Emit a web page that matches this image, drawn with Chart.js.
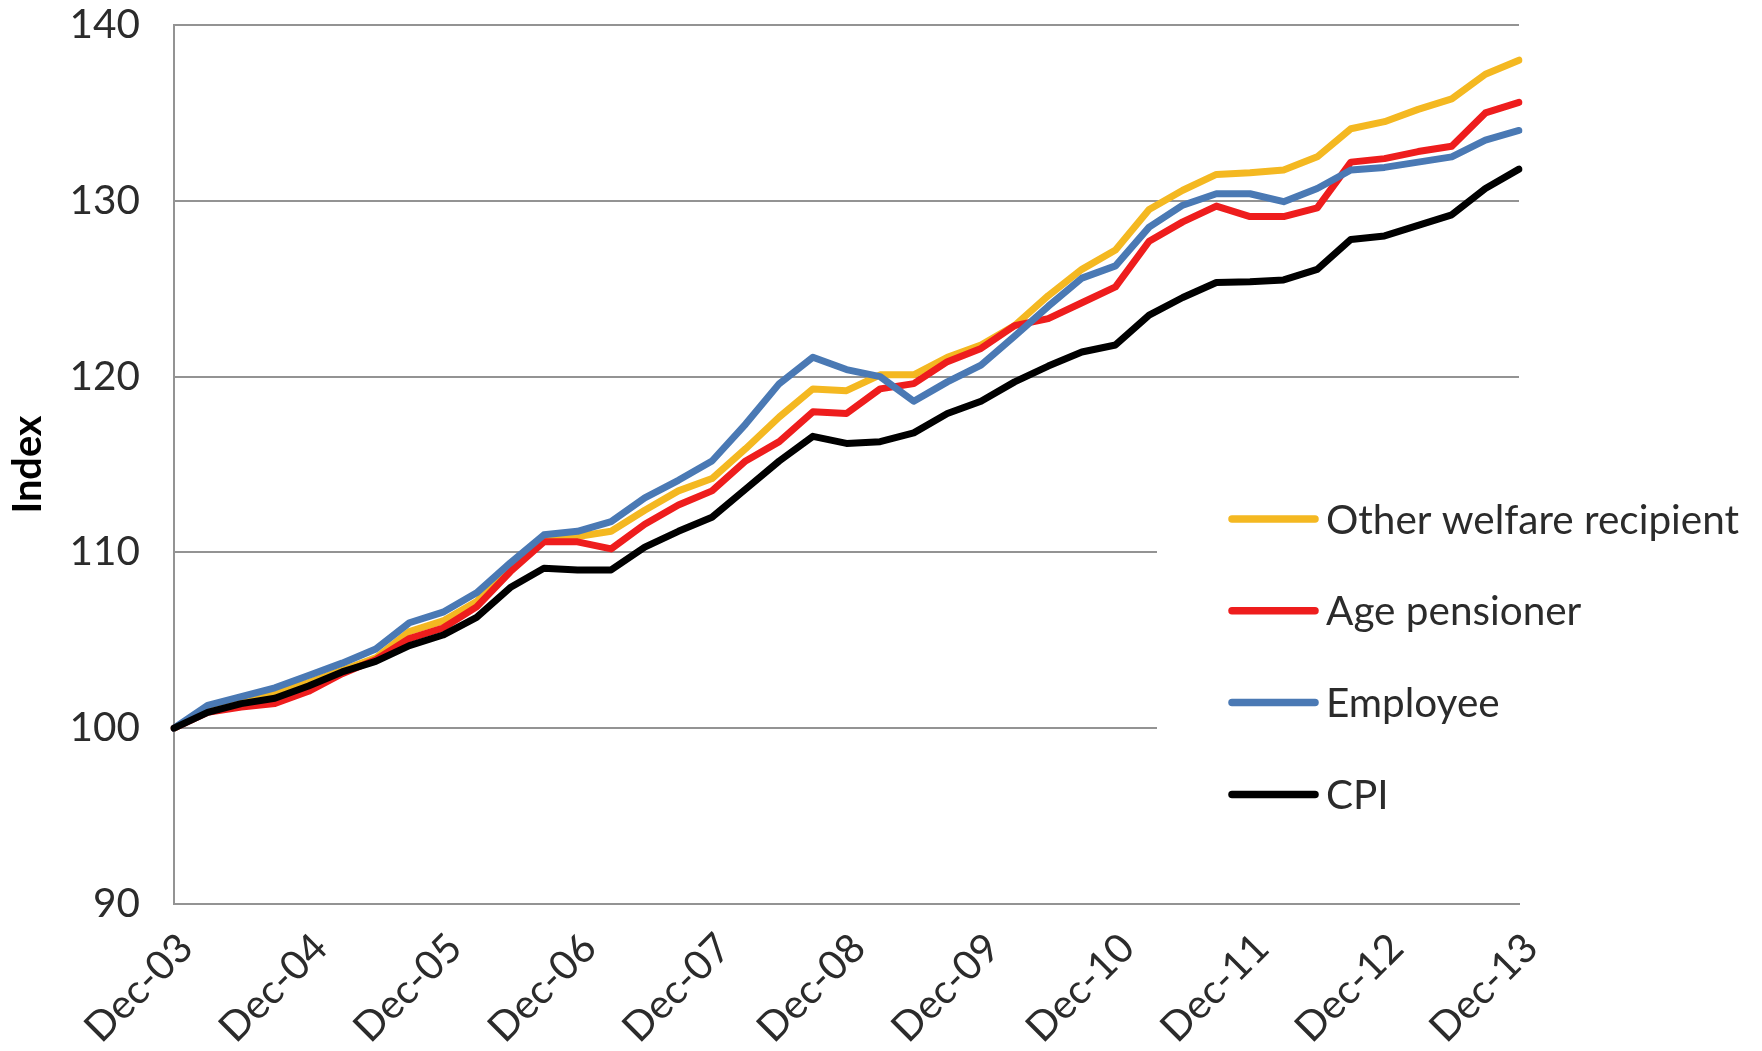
<!DOCTYPE html>
<html>
<head>
<meta charset="utf-8">
<script src="https://cdn.jsdelivr.net/npm/chart.js@4.4.0/dist/chart.umd.min.js"></script>
<style>
html,body{margin:0;padding:0;background:#ffffff;}
canvas{display:block;}
</style>
</head>
<body>
<canvas id="c" width="1762" height="1051"></canvas>
<script>
// ---------------- DATA ----------------
const quarters = [
  'Dec-03',
  'Mar-04','Jun-04','Sep-04','Dec-04',
  'Mar-05','Jun-05','Sep-05','Dec-05',
  'Mar-06','Jun-06','Sep-06','Dec-06',
  'Mar-07','Jun-07','Sep-07','Dec-07',
  'Mar-08','Jun-08','Sep-08','Dec-08',
  'Mar-09','Jun-09','Sep-09','Dec-09',
  'Mar-10','Jun-10','Sep-10','Dec-10',
  'Mar-11','Jun-11','Sep-11','Dec-11',
  'Mar-12','Jun-12','Sep-12','Dec-12',
  'Mar-13','Jun-13','Sep-13','Dec-13'
];

const otherWelfare = [
  100, 101.1, 101.6, 102.0, 102.6, 103.3, 104.0, 105.5, 106.1, 107.2, 109.2,
  110.8, 110.9, 111.2, 112.4, 113.5, 114.2, 115.9, 117.7, 119.3, 119.2,
  120.1, 120.1, 121.1, 121.8, 122.9, 124.6, 126.1, 127.2, 129.5, 130.6, 131.5,
  131.6, 131.75, 132.5, 134.1, 134.5, 135.2, 135.8, 137.2, 138.0
];

const agePensioner = [
  100, 100.9, 101.2, 101.4, 102.1, 103.1, 103.9, 105.1, 105.7, 106.9, 108.9,
  110.6, 110.6, 110.2, 111.6, 112.7, 113.5, 115.2, 116.3, 118.0, 117.9,
  119.3, 119.6, 120.85, 121.6, 122.9, 123.3, 124.2, 125.1, 127.7, 128.8, 129.7,
  129.1, 129.1, 129.6, 132.2, 132.4, 132.8, 133.1, 135.0, 135.6
];

const employee = [
  100, 101.3, 101.8, 102.3, 103.0, 103.7, 104.5, 106.0, 106.6, 107.7, 109.4,
  111.0, 111.2, 111.75, 113.1, 114.1, 115.2, 117.3, 119.6, 121.1, 120.4,
  120.0, 118.6, 119.7, 120.65, 122.3, 124.0, 125.6, 126.3, 128.5, 129.75, 130.4,
  130.4, 129.95, 130.7, 131.75, 131.9, 132.2, 132.5, 133.45, 134.0
];

const cpi = [
  100, 100.9, 101.4, 101.7, 102.4, 103.2, 103.8, 104.7, 105.3, 106.3, 108.0,
  109.1, 109.0, 109.0, 110.3, 111.2, 112.0, 113.6, 115.2, 116.6, 116.2,
  116.3, 116.8, 117.9, 118.6, 119.7, 120.6, 121.4, 121.8, 123.5, 124.5, 125.35,
  125.4, 125.5, 126.1, 127.8, 128.0, 128.6, 129.2, 130.7, 131.8
];

const seriesNames = ['Other welfare recipient', 'Age pensioner', 'Employee', 'CPI'];
const yTickValues = [90, 100, 110, 120, 130, 140];
const yTitle = 'Index';

// ---------------- STYLE ----------------
const FAMILY = 'Lato, "Open Sans", "Liberation Sans", sans-serif';
const TEXT = '#2b2b2b';
const GRID = '#939393';
const COLORS = ['#F4B821', '#EE1D1D', '#4A79B4', '#000000'];

function fitSize(text, target, weight) {
  const c = document.createElement('canvas').getContext('2d');
  c.font = (weight || 'normal') + ' 100px ' + FAMILY;
  return 100 * target / c.measureText(text).width;
}
const F = fitSize('Other welfare recipient', 413, 'normal');
const FI = fitSize('Index', 98, 'bold');

const sideLegend = {
  id: 'sideLegend',
  beforeDatasetsDraw(chart, args, o) {
    const ctx = chart.ctx;
    ctx.save();
    ctx.fillStyle = '#ffffff';
    ctx.fillRect(o.boxX, o.boxY, o.boxW, o.boxH);
    chart.data.datasets.forEach((ds, i) => {
      const y = o.firstY + i * o.rowGap;
      ctx.strokeStyle = ds.borderColor;
      ctx.lineWidth = o.lineWidth;
      ctx.lineCap = 'round';
      ctx.beginPath();
      ctx.moveTo(o.lineX0, y);
      ctx.lineTo(o.lineX1, y);
      ctx.stroke();
      ctx.fillStyle = TEXT;
      ctx.font = 'normal ' + F + 'px ' + FAMILY;
      ctx.textAlign = 'left';
      ctx.textBaseline = 'alphabetic';
      ctx.fillText(ds.label, o.textX, y + F * 0.36);
    });
    ctx.restore();
  }
};

const seriesData = [otherWelfare, agePensioner, employee, cpi];

new Chart(document.getElementById('c'), {
  type: 'line',
  data: {
    labels: quarters,
    datasets: seriesData.map((d, i) => ({
      label: seriesNames[i],
      data: d,
      borderColor: COLORS[i],
      backgroundColor: COLORS[i],
      borderWidth: 7,
      pointRadius: 0,
      tension: 0,
      fill: false,
      borderJoinStyle: 'round',
      borderCapStyle: 'round',
      order: seriesData.length - i
    }))
  },
  options: {
    responsive: false,
    animation: false,
    devicePixelRatio: 1,
    layout: { padding: { top: 25, right: 243, bottom: 0, left: 0 } },
    plugins: {
      legend: { display: false },
      tooltip: { enabled: false },
      sideLegend: {
        boxX: 1157, boxY: 470, boxW: 605, boxH: 380,
        firstY: 519, rowGap: 91.8,
        lineX0: 1232, lineX1: 1315, lineWidth: 7.5,
        textX: 1326
      }
    },
    scales: {
      x: {
        grid: { display: false, drawTicks: false },
        border: { display: true, color: GRID, width: 2 },
        ticks: {
          autoSkip: false,
          maxRotation: 45,
          minRotation: 45,
          padding: 20,
          labelOffset: 12,
          color: TEXT,
          font: { family: FAMILY, size: F },
          callback: function (v, i) { return i % 4 === 0 ? this.getLabelForValue(v) : ''; }
        },
        afterFit(s) { s.height = 147; s.paddingLeft = 0; s.paddingRight = 0; }
      },
      y: {
        min: yTickValues[0],
        max: yTickValues[yTickValues.length - 1],
        ticks: {
          stepSize: yTickValues[1] - yTickValues[0],
          padding: 34,
          color: TEXT,
          font: { family: FAMILY, size: F }
        },
        grid: { color: GRID, lineWidth: 2, drawTicks: false },
        border: { display: true, color: GRID, width: 2 },
        title: {
          display: true,
          text: yTitle,
          color: '#000000',
          font: { family: FAMILY, size: FI, weight: 'bold' },
          padding: { top: 4, bottom: 0 }
        },
        afterFit(s) { s.width = 174; s.paddingTop = 0; s.paddingBottom = 0; }
      }
    }
  },
  plugins: [sideLegend]
});
</script>
</body>
</html>
